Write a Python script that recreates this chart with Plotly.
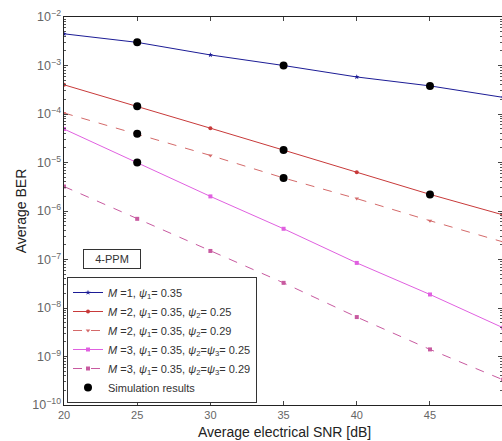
import plotly.graph_objects as go

snr = [20, 25, 30, 35, 40, 45, 50]

ber_m1 = [4.5e-3, 3.0e-3, 1.65e-3, 1.0e-3, 5.8e-4, 3.8e-4, 2.2e-4]
ber_m2_025 = [4.0e-4, 1.45e-4, 5.1e-5, 1.8e-5, 6.3e-6, 2.2e-6, 8.3e-7]
ber_m2_029 = [1.05e-4, 3.9e-5, 1.4e-5, 4.8e-6, 1.8e-6, 6.3e-7, 2.3e-7]
ber_m3_025 = [4.9e-5, 1.0e-5, 2.0e-6, 4.3e-7, 8.5e-8, 1.9e-8, 3.9e-9]
ber_m3_029 = [3.2e-6, 6.9e-7, 1.5e-7, 3.3e-8, 6.5e-9, 1.4e-9, 3.3e-10]

sim_x = [25, 35, 45, 25, 35, 45, 25, 35, 25]
sim_y = [3.0e-3, 1.0e-3, 3.8e-4, 1.45e-4, 1.8e-5, 2.2e-6, 3.9e-5, 4.8e-6, 1.0e-5]

labels = [
    "<i>M</i> =1, <i>ψ</i><sub>1</sub>= 0.35",
    "<i>M</i> =2, <i>ψ</i><sub>1</sub>= 0.35, <i>ψ</i><sub>2</sub>= 0.25",
    "<i>M</i> =2, <i>ψ</i><sub>1</sub>= 0.35, <i>ψ</i><sub>2</sub>= 0.29",
    "<i>M</i> =3, <i>ψ</i><sub>1</sub>= 0.35, <i>ψ</i><sub>2</sub>=<i>ψ</i><sub>3</sub>= 0.25",
    "<i>M</i> =3, <i>ψ</i><sub>1</sub>= 0.35, <i>ψ</i><sub>2</sub>=<i>ψ</i><sub>3</sub>= 0.29",
]
series = [ber_m1, ber_m2_025, ber_m2_029, ber_m3_025, ber_m3_029]
colors = ["#1c1c96", "#c83a3a", "#d46a6a", "#e060e0", "#c85aa0"]
dashes = ["solid", "solid", "dash", "solid", "dash"]
symbols = ["star", "circle", "triangle-down", "square", "square"]

decades = [-10, -9, -8, -7, -6, -5, -4, -3]
mantissas = [2, 3, 4, 5, 6, 7, 8, 9]
minor_vals = [m * 10.0 ** d for d in decades for m in mantissas]

fig = go.Figure()
for lab, ys, c, d, s in zip(labels, series, colors, dashes, symbols):
    fig.add_trace(go.Scatter(
        x=snr, y=ys, mode="lines+markers", name=lab,
        line=dict(color=c, width=1, dash=d),
        marker=dict(symbol=s, size=4, color=c),
    ))
fig.add_trace(go.Scatter(
    x=sim_x, y=sim_y, mode="markers", name="Simulation results",
    marker=dict(color="black", size=8, symbol="circle"),
))
# invisible trace to anchor the minor-tick axis
fig.add_trace(go.Scatter(
    x=[20], y=[1e-6], yaxis="y2", mode="markers",
    marker=dict(opacity=0), showlegend=False, hoverinfo="skip",
))

PLOT_TOP, PLOT_H, PLOT_L, PLOT_W = 17, 388, 64, 438

fig.update_layout(
    width=502, height=441,
    margin=dict(l=PLOT_L, r=0, t=PLOT_TOP, b=441 - PLOT_TOP - PLOT_H),
    paper_bgcolor="white", plot_bgcolor="white",
    font=dict(family="Arial, Liberation Sans, sans-serif", color="#222"),
    legend=dict(
        x=(67 - PLOT_L) / PLOT_W, y=1 - (277 - PLOT_TOP) / PLOT_H,
        xanchor="left", yanchor="top", itemwidth=30,
        bgcolor="white", bordercolor="#333", borderwidth=1,
        font=dict(size=11, color="#333"), tracegroupgap=0,
    ),
    xaxis=dict(
        range=[20, 49.92], tickvals=[20, 25, 30, 35, 40, 45, 50],
        ticks="inside", ticklen=4, mirror="ticks", showline=True,
        linecolor="#222", linewidth=1, showgrid=False, zeroline=False,
        tickfont=dict(size=11, color="#666"), ticklabelstandoff=0,
    ),
    yaxis=dict(
        type="log", range=[-10, -2], dtick=1, exponentformat="power",
        ticks="inside", ticklen=4, mirror="ticks", showline=True,
        linecolor="#222", linewidth=1, showgrid=False, zeroline=False,
        tickfont=dict(size=10, color="#666"),
        title=dict(text="Average BER", font=dict(size=14, color="#222"), standoff=2),
    ),
    yaxis2=dict(
        type="log", range=[-10, -2], overlaying="y", side="left",
        tickvals=minor_vals, showticklabels=False,
        ticks="inside", ticklen=2, tickcolor="#555", mirror="ticks",
        showline=False, showgrid=False, zeroline=False,
    ),
    annotations=[
        dict(
            x=(112 - PLOT_L) / PLOT_W, y=1 - (259 - PLOT_TOP) / PLOT_H,
            xref="paper", yref="paper", xanchor="center", yanchor="middle",
            text="4-PPM", showarrow=False, font=dict(size=11, color="#333"),
            bordercolor="#333", borderwidth=1, borderpad=3, bgcolor="white", width=50,
        ),
        dict(
            x=(284 - PLOT_L) / PLOT_W, y=-(432 - PLOT_TOP - PLOT_H) / PLOT_H,
            xref="paper", yref="paper", xanchor="center", yanchor="middle",
            text="Average electrical SNR [dB]", showarrow=False,
            font=dict(size=14, color="#222"),
        ),
    ],
)

fig.write_html("out.html", config={"displayModeBar": False},
               post_script="document.body.style.margin='0';")
